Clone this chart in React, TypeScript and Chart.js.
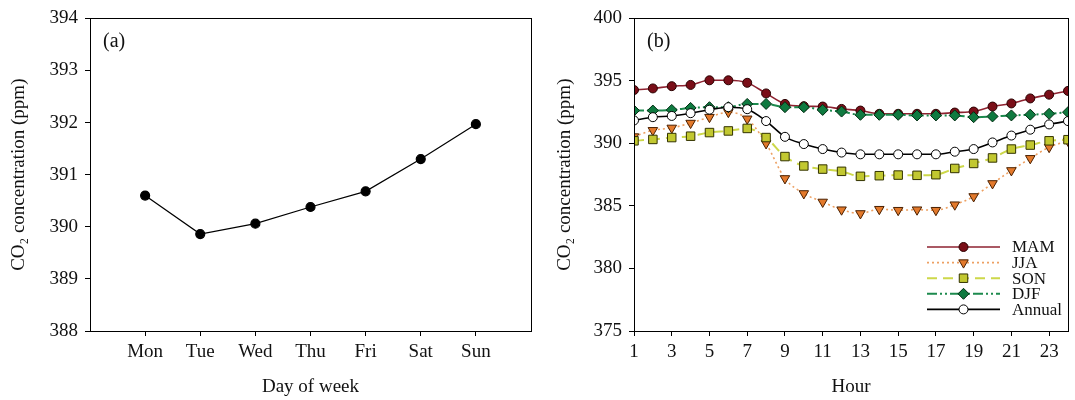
import React, { useEffect, useRef } from "react";
import { Chart, registerables } from "chart.js";
Chart.register(...registerables);

// ---------- data ----------
const days = ["Mon", "Tue", "Wed", "Thu", "Fri", "Sat", "Sun"];
const dayValues = [390.6, 389.86, 390.06, 390.38, 390.68, 391.3, 391.97];

const hours = [1, 2, 3, 4, 5, 6, 7, 8, 9, 10, 11, 12, 13, 14, 15, 16, 17, 18, 19, 20, 21, 22, 23, 24];
const hourTicks = [1, 3, 5, 7, 9, 11, 13, 15, 17, 19, 21, 23];
const mam = [394.27, 394.4, 394.58, 394.68, 395.05, 395.05, 394.85, 394.0, 393.16, 392.98, 392.95, 392.76, 392.63, 392.37, 392.37, 392.37, 392.37, 392.47, 392.55, 392.95, 393.2, 393.6, 393.9, 394.2];
const jja = [390.55, 391.05, 391.24, 391.63, 392.1, 392.5, 391.97, 390.0, 387.2, 386.0, 385.32, 384.7, 384.4, 384.74, 384.66, 384.7, 384.66, 385.1, 385.76, 386.8, 387.84, 388.81, 389.7, 390.2];
const son = [390.21, 390.32, 390.47, 390.58, 390.87, 391.0, 391.2, 390.47, 388.95, 388.2, 387.95, 387.77, 387.37, 387.42, 387.47, 387.45, 387.5, 388.0, 388.4, 388.84, 389.55, 389.87, 390.21, 390.3];
const djf = [392.63, 392.63, 392.68, 392.84, 392.9, 392.9, 393.16, 393.16, 392.9, 392.9, 392.68, 392.55, 392.29, 392.29, 392.29, 392.24, 392.24, 392.24, 392.1, 392.16, 392.24, 392.3, 392.37, 392.5];
const annual = [391.84, 392.1, 392.2, 392.42, 392.7, 392.9, 392.74, 391.79, 390.53, 389.95, 389.55, 389.27, 389.13, 389.13, 389.13, 389.13, 389.13, 389.34, 389.55, 390.08, 390.63, 391.1, 391.52, 391.79];

const FONT = "'Liberation Serif', 'Times New Roman', 'DejaVu Serif', serif";
const TXT = "#111";

type SeriesStyle = {
  label: string;
  data: number[];
  line: string;
  width: number;
  dash: number[];
  point: string;
  rotation: number;
  fill: string;
  stroke: string;
  radius: number;
  order: number;
};

const series: SeriesStyle[] = [
  { label: "MAM", data: mam, line: "#8E2230", width: 1.6, dash: [], point: "circle", rotation: 0, fill: "#7A0E18", stroke: "#2a0000", radius: 4.5, order: 2 },
  { label: "JJA", data: jja, line: "#EDA062", width: 1.6, dash: [2, 3], point: "triangle", rotation: 180, fill: "#E3792B", stroke: "#4a2000", radius: 5.5, order: 4 },
  { label: "SON", data: son, line: "#CDD84A", width: 2, dash: [10, 6], point: "rect", rotation: 0, fill: "#C2C830", stroke: "#333300", radius: 6, order: 3 },
  { label: "DJF", data: djf, line: "#1D8A4E", width: 2, dash: [10, 3, 2, 3, 2, 3], point: "rectRot", rotation: 0, fill: "#0F7A40", stroke: "#002b10", radius: 5.5, order: 1 },
  { label: "Annual", data: annual, line: "#000000", width: 1.6, dash: [], point: "circle", rotation: 0, fill: "#ffffff", stroke: "#000000", radius: 4.5, order: 0 },
];

function drawMarker(ctx: CanvasRenderingContext2D, s: SeriesStyle, x: number, y: number) {
  const r = s.radius;
  ctx.save();
  ctx.beginPath();
  if (s.point === "circle") {
    ctx.arc(x, y, r, 0, Math.PI * 2);
  } else if (s.point === "rect") {
    const h = r * Math.SQRT1_2;
    ctx.rect(x - h, y - h, 2 * h, 2 * h);
  } else if (s.point === "rectRot") {
    ctx.moveTo(x, y - r);
    ctx.lineTo(x + r, y);
    ctx.lineTo(x, y + r);
    ctx.lineTo(x - r, y);
    ctx.closePath();
  } else if (s.point === "triangle") {
    let rad = (s.rotation * Math.PI) / 180;
    ctx.moveTo(x + Math.sin(rad) * r, y - Math.cos(rad) * r);
    rad += (2 * Math.PI) / 3;
    ctx.lineTo(x + Math.sin(rad) * r, y - Math.cos(rad) * r);
    rad += (2 * Math.PI) / 3;
    ctx.lineTo(x + Math.sin(rad) * r, y - Math.cos(rad) * r);
    ctx.closePath();
  }
  ctx.fillStyle = s.fill;
  ctx.fill();
  ctx.lineWidth = 1;
  ctx.strokeStyle = s.stroke;
  ctx.stroke();
  ctx.restore();
}

const boxPlugin = {
  id: "box",
  afterDraw(chart: any) {
    const { ctx, chartArea: a } = chart;
    ctx.save();
    ctx.strokeStyle = "#000";
    ctx.lineWidth = 1;
    ctx.strokeRect(Math.round(a.left) + 0.5, Math.round(a.top) + 0.5, Math.round(a.right - a.left), Math.round(a.bottom - a.top));
    ctx.restore();
  },
};

function panelLabel(text: string) {
  return {
    id: "panelLabel",
    afterDraw(chart: any) {
      const { ctx, chartArea: a } = chart;
      ctx.save();
      ctx.font = `20px ${FONT}`;
      ctx.fillStyle = TXT;
      ctx.textBaseline = "middle";
      ctx.textAlign = "left";
      ctx.fillText(text, a.left + 13, a.top + 23);
      ctx.restore();
    },
  };
}

const legendPlugin = {
  id: "customLegend",
  afterDraw(chart: any) {
    const { ctx, chartArea: a } = chart;
    ctx.save();
    series.forEach((s, i) => {
      const y = a.bottom - 84 + i * 15.6;
      const x0 = a.right - 141;
      const x1 = a.right - 68;
      ctx.beginPath();
      ctx.setLineDash(s.dash);
      ctx.strokeStyle = s.line;
      ctx.lineWidth = s.width;
      ctx.moveTo(x0, y);
      ctx.lineTo(x1, y);
      ctx.stroke();
      ctx.setLineDash([]);
      drawMarker(ctx, s, (x0 + x1) / 2, y);
      ctx.font = `17px ${FONT}`;
      ctx.fillStyle = TXT;
      ctx.textBaseline = "middle";
      ctx.textAlign = "left";
      ctx.fillText(s.label, a.right - 56, y + 1);
    });
    ctx.restore();
  },
};

const tickFont = { family: FONT, size: 19 };
const titleFont = { family: FONT, size: 19 };

function LeftChart() {
  const ref = useRef<HTMLCanvasElement>(null);
  useEffect(() => {
    const chart = new Chart(ref.current!, {
      type: "line",
      data: {
        datasets: [
          {
            data: dayValues.map((v, i) => ({ x: i + 1, y: v })),
            borderColor: "#000",
            borderWidth: 1.2,
            pointBackgroundColor: "#000",
            pointBorderColor: "#000",
            pointRadius: 4.5,
            tension: 0,
          },
        ],
      },
      options: {
        animation: false,
        responsive: false,
        layout: { padding: { top: 14, right: 9, left: 0, bottom: 0 } },
        plugins: { legend: { display: false }, tooltip: { enabled: false } },
        scales: {
          x: {
            type: "linear",
            min: 0,
            max: 8,
            afterBuildTicks: (scale: any) => {
              scale.ticks = days.map((_, i) => ({ value: i + 1 }));
            },
            afterFit: (scale: any) => {
              scale.height = 69;
            },
            ticks: {
              font: tickFont,
              color: TXT,
              padding: 5,
              maxRotation: 0,
              autoSkip: false,
              callback: (v: any) => days[Number(v) - 1] ?? "",
            },
            grid: { drawOnChartArea: false, drawTicks: true, tickLength: 5, color: "#000" },
            border: { display: true, color: "#000" },
            title: { display: true, text: "Day of week", font: titleFont, color: TXT, padding: { top: 0, bottom: 2 } },
          },
          y: {
            min: 388,
            max: 394,
            afterFit: (scale: any) => {
              scale.width = 90;
            },
            ticks: { stepSize: 1, font: tickFont, color: TXT, padding: 7 },
            grid: { drawOnChartArea: false, drawTicks: true, tickLength: 5, color: "#000" },
            border: { display: true, color: "#000" },
            title: { display: true, text: "CO₂ concentration (ppm)", font: titleFont, color: TXT, padding: { top: 8, bottom: 0 } },
          },
        },
      } as any,
      plugins: [boxPlugin, panelLabel("(a)")],
    });
    return () => chart.destroy();
  }, []);
  return <canvas ref={ref} width={540} height={400} style={{ display: "block" }} />;
}

function RightChart() {
  const ref = useRef<HTMLCanvasElement>(null);
  useEffect(() => {
    const chart = new Chart(ref.current!, {
      type: "line",
      data: {
        datasets: series.map((s) => ({
          label: s.label,
          data: s.data.map((v, i) => ({ x: hours[i], y: v })),
          borderColor: s.line,
          borderWidth: s.width,
          borderDash: s.dash,
          pointStyle: s.point,
          pointRotation: s.rotation,
          pointBackgroundColor: s.fill,
          pointBorderColor: s.stroke,
          pointBorderWidth: 1,
          pointRadius: s.radius,
          cubicInterpolationMode: "monotone",
          order: s.order,
        })),
      },
      options: {
        animation: false,
        responsive: false,
        layout: { padding: { top: 14, right: 2, left: 0, bottom: 0 } },
        plugins: { legend: { display: false }, tooltip: { enabled: false } },
        scales: {
          x: {
            type: "linear",
            min: 1,
            max: 24,
            afterBuildTicks: (scale: any) => {
              scale.ticks = hourTicks.map((h) => ({ value: h }));
            },
            afterFit: (scale: any) => {
              scale.height = 69;
            },
            ticks: { font: tickFont, color: TXT, padding: 5, maxRotation: 0, autoSkip: false },
            grid: { drawOnChartArea: false, drawTicks: true, tickLength: 5, color: "#000" },
            border: { display: true, color: "#000" },
            title: { display: true, text: "Hour", font: titleFont, color: TXT, padding: { top: 0, bottom: 2 } },
          },
          y: {
            min: 375,
            max: 400,
            afterFit: (scale: any) => {
              scale.width = 94;
            },
            ticks: { stepSize: 5, font: tickFont, color: TXT, padding: 7 },
            grid: { drawOnChartArea: false, drawTicks: true, tickLength: 5, color: "#000" },
            border: { display: true, color: "#000" },
            title: { display: true, text: "CO₂ concentration (ppm)", font: titleFont, color: TXT, padding: { top: 14, bottom: 0 } },
          },
        },
      } as any,
      plugins: [boxPlugin, panelLabel("(b)"), legendPlugin],
    });
    return () => chart.destroy();
  }, []);
  return <canvas ref={ref} width={535} height={400} style={{ display: "block" }} />;
}

export default function App() {
  return (
    <div style={{ position: "absolute", left: 0, top: 0, width: 1075, height: 400, background: "#fff" }}>
      <div style={{ position: "absolute", left: 0, top: 0, width: 540, height: 400 }}>
        <LeftChart />
      </div>
      <div style={{ position: "absolute", left: 540, top: 0, width: 535, height: 400 }}>
        <RightChart />
      </div>
    </div>
  );
}
